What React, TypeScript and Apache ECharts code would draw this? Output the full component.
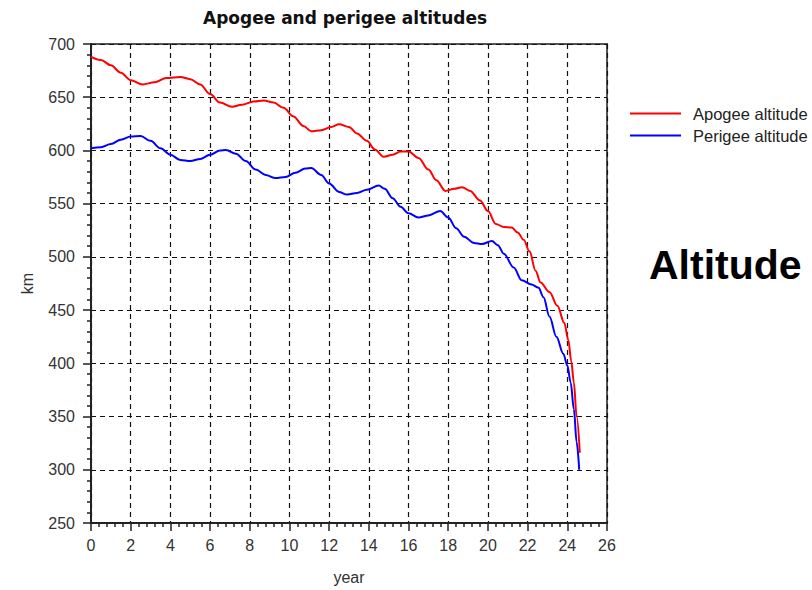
import React, { useEffect, useRef } from "react";
import * as echarts from "echarts";

const titleText = "Apogee and perigee altitudes";
const seriesNames = ["Apogee altitude", "Perigee altitude"];
const sideLabel = "Altitude";

const apogeeYears = [0, 0.5, 1, 1.5, 2, 2.6, 3.2, 3.8, 4.5, 5, 5.5, 6, 6.5, 7.1, 7.6, 8.2, 8.7, 9.2, 9.7, 10.2, 10.7, 11.1, 11.6, 12.1, 12.5, 13, 13.4, 13.9, 14.3, 14.75, 15.2, 15.6, 16, 16.5, 17, 17.4, 17.85, 18.3, 18.7, 19.1, 19.6, 20, 20.4, 20.8, 21.2, 21.5, 21.8, 22.1, 22.4, 22.65, 23.1, 23.5, 23.85, 24.05, 24.2, 24.33, 24.47, 24.63];
const apogeeKm = [688, 685, 680, 673, 666, 662, 664, 668, 669, 667, 662, 653, 645, 641, 643, 646, 647, 645, 640, 632, 623, 618, 619, 622, 624.5, 622, 616, 609, 601, 594, 596, 599, 599, 593, 582, 572, 562, 564, 565.5, 562, 553, 543, 531, 528, 527.5, 523, 516, 505, 487, 476, 467, 454, 438, 422, 402, 382, 350, 316];

const perigeeYears = [0, 0.5, 1, 1.5, 2, 2.5, 3, 3.5, 4, 4.5, 5, 5.5, 6, 6.5, 6.8, 7.3, 7.8, 8.3, 8.8, 9.3, 9.8, 10.3, 10.8, 11.1, 11.6, 12, 12.5, 12.9, 13.4, 13.9, 14.5, 14.8, 15.2, 15.6, 16, 16.5, 17, 17.6, 18, 18.4, 18.8, 19.3, 19.7, 20.2, 20.5, 20.8, 21.3, 21.7, 22.2, 22.55, 22.8, 23.1, 23.45, 23.8, 24, 24.17, 24.33, 24.47, 24.6];
const perigeeKm = [602, 603, 606, 610, 613, 613.5, 609, 602, 596, 591, 590, 592, 596, 600, 600.5, 597, 590, 582, 577, 574, 575, 579, 583, 583.5, 577, 569, 561, 558.5, 560, 563, 567, 564, 555, 547, 541, 537, 539, 543, 537, 527, 519, 513, 512, 515, 511, 503, 490, 478, 474, 471, 462, 444, 425, 409, 398, 382, 357, 326, 300];

const xMin = 0, xMax = 26, xStep = 2;
const yMin = 250, yMax = 700, yStep = 50;

const pairs = (xs: number[], ys: number[]) => xs.map((x, i) => [x, ys[i]]);

export default function App() {
  const ref = useRef<HTMLDivElement>(null);
  useEffect(() => {
    if (!ref.current) return;
    const chart = echarts.init(ref.current, undefined, { renderer: "svg" });
    const font = "'Liberation Sans', Arial, sans-serif";
    const axisCommon = {
      axisLine: { show: true, lineStyle: { color: "#222", width: 2 } },
      axisTick: { show: true, length: 8, lineStyle: { color: "#222", width: 1.5 } },
      minorTick: { show: true, splitNumber: 5, length: 4, lineStyle: { color: "#222", width: 1.5 } },
      splitLine: { show: true, lineStyle: { color: "#111", type: [5, 4], width: 1.2 } },
      axisLabel: { color: "#333", fontSize: 16, fontFamily: font },
      nameTextStyle: { color: "#333", fontSize: 16, fontFamily: font },
    };
    chart.setOption({
      animation: false,
      backgroundColor: "#fff",
      title: {
        text: titleText,
        left: 203,
        top: 9,
        padding: 0,
        textStyle: { fontFamily: "'DejaVu Sans', sans-serif", fontWeight: "bold", fontSize: 17, color: "#111" },
      },
      grid: {
        left: 91, right: 205, top: 44, bottom: 62,
        show: true, borderColor: "#555", borderWidth: 2, backgroundColor: "transparent",
      },
      legend: {
        orient: "vertical",
        left: 630,
        top: 105,
        itemWidth: 51,
        itemHeight: 2,
        itemGap: 5,
        icon: "rect",
        padding: 0,
        textStyle: { fontSize: 16.5, fontFamily: font, color: "#222", padding: [0, 0, 0, 7] },
        data: seriesNames,
      },
      xAxis: {
        type: "value",
        min: xMin, max: xMax, interval: xStep,
        name: "year",
        nameLocation: "middle",
        nameGap: 46,
        ...axisCommon,
        axisLabel: { ...axisCommon.axisLabel, margin: 14 },
      },
      yAxis: {
        type: "value",
        min: yMin, max: yMax, interval: yStep,
        name: "km",
        nameLocation: "middle",
        nameGap: 56,
        ...axisCommon,
        axisLabel: { ...axisCommon.axisLabel, margin: 16 },
      },
      graphic: [
        {
          type: "text",
          left: 649,
          top: 244,
          style: { text: sideLabel, font: `bold 41px ${font}`, fill: "#000" },
        },
      ],
      series: [
        {
          name: seriesNames[0], type: "line", data: pairs(apogeeYears, apogeeKm),
          showSymbol: false, smooth: 0.35, smoothMonotone: "x",
          lineStyle: { color: "#ff0000", width: 2 }, itemStyle: { color: "#ff0000" },
        },
        {
          name: seriesNames[1], type: "line", data: pairs(perigeeYears, perigeeKm),
          showSymbol: false, smooth: 0.35, smoothMonotone: "x",
          lineStyle: { color: "#0000ff", width: 2 }, itemStyle: { color: "#0000ff" },
        },
      ],
    });
    return () => chart.dispose();
  }, []);
  return <div ref={ref} style={{ width: 812, height: 590, position: "absolute", left: 0, top: 0 }} />;
}
